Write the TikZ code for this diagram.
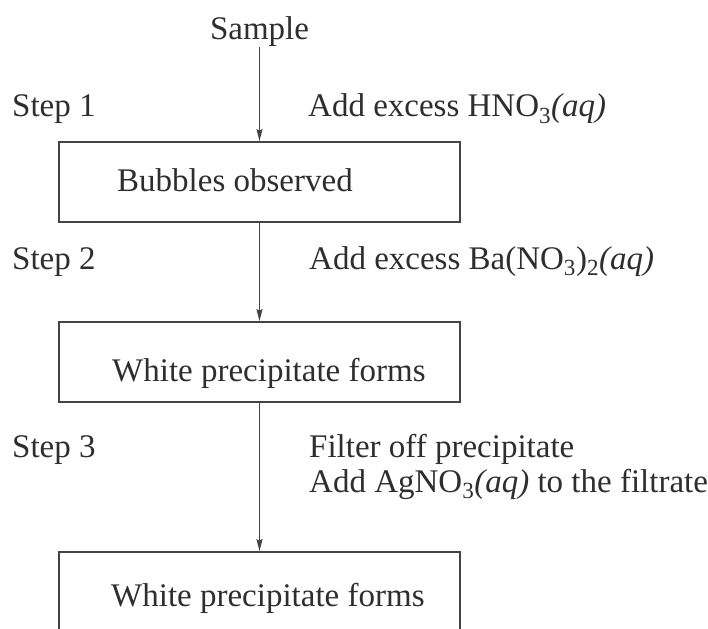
\documentclass[tikz,border=0pt]{standalone}
\usepackage{fontspec}
\setmainfont{Liberation Serif}
\usetikzlibrary{arrows.meta}
\definecolor{ink}{HTML}{2E2E2E}
\definecolor{linecol}{HTML}{444444}
\tikzset{
  txt/.style={anchor=base west, inner sep=0pt, text=ink, font=\fontsize{33}{35}\selectfont},
  ctxt/.style={anchor=base, inner sep=0pt, text=ink, font=\fontsize{33}{35}\selectfont},
  boxnode/.style={draw=linecol, line width=1.7pt, minimum width=401pt, minimum height=80pt, inner sep=0pt},
  arr/.style={draw=linecol, line width=1.6pt, -{Stealth[length=12pt,width=6pt,inset=1.5pt]}}
}
\begin{document}
\begin{tikzpicture}[x=1pt,y=-1pt]
\useasboundingbox (0,0) rectangle (708,628);
\clip (0,0) rectangle (708,628);
% title
\node[ctxt] (sample) at (259.5,40) {Sample};
% boxes
\node[boxnode] (b1) at (259.5,182) {};
\node[boxnode] (b2) at (259.5,362) {};
\node[boxnode] (b3) at (259.5,592) {};
% box texts
\node[txt] (t1) at (117,192) {Bubbles observed};
\node[txt] (t2) at (112,381) {White precipitate forms};
\node[txt] (t3) at (111,606) {White precipitate forms};
% step labels
\node[txt] (s1) at (12,117) {Step 1};
\node[txt] (s2) at (12,269) {Step 2};
\node[txt] (s3) at (12,457) {Step 3};
% reagents
\node[txt] (r1) at (308,117) {Add excess HNO\textsubscript{3}\textit{(aq)}};
\node[txt] (r2) at (309,269) {Add excess Ba(NO\textsubscript{3})\textsubscript{2}\textit{(aq)}};
\node[txt] (r3a) at (309,457) {Filter off precipitate};
\node[txt] (r3b) at (309,492) {Add AgNO\textsubscript{3}\textit{(aq)} to the filtrate};
% arrows
\draw[arr] (sample.south) -- (b1.north);
\draw[arr] (b1.south) -- (b2.north);
\draw[arr] (b2.south) -- (b3.north);
\end{tikzpicture}
\end{document}
